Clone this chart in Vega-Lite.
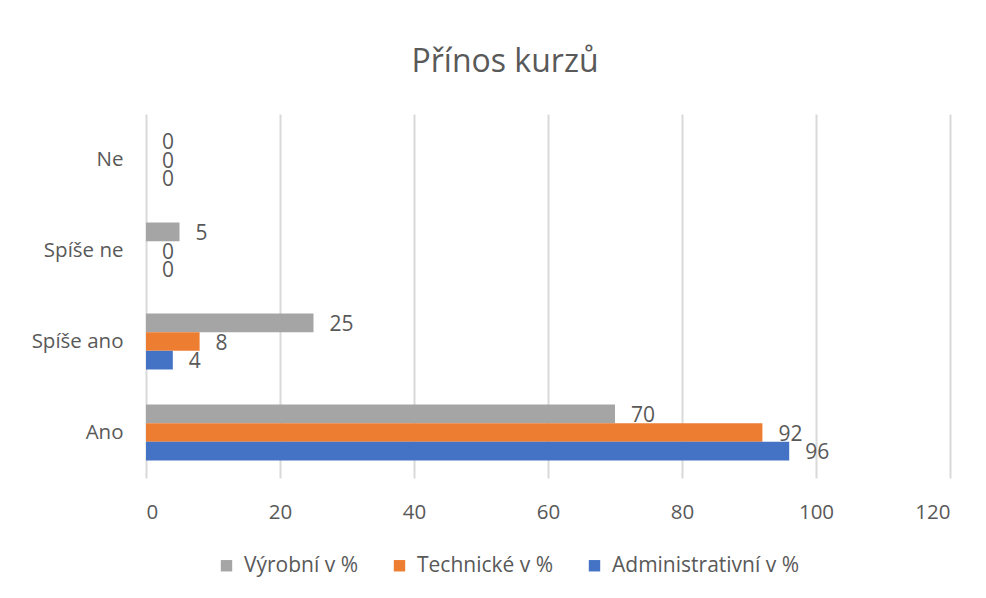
{
  "$schema": "https://vega.github.io/schema/vega-lite/v6.json",
  "width": 804,
  "height": 364,
  "autosize": {"type": "none"},
  "padding": {"left": 146, "top": 114, "right": 36, "bottom": 120},
  "background": "white",
  "config": {
    "font": "Open Sans",
    "view": {"stroke": null}
  },
  "title": {
    "text": "Přínos kurzů",
    "fontSize": 32,
    "fontWeight": "normal",
    "color": "#595959",
    "anchor": "middle",
    "frame": "group",
    "dx": -43,
    "offset": 35
  },
  "data": {
    "values": [
      {"kategorie": "Ne", "skupina": "Výrobní v %", "hodnota": 0},
      {"kategorie": "Ne", "skupina": "Technické v %", "hodnota": 0},
      {"kategorie": "Ne", "skupina": "Administrativní v %", "hodnota": 0},
      {"kategorie": "Spíše ne", "skupina": "Výrobní v %", "hodnota": 5},
      {"kategorie": "Spíše ne", "skupina": "Technické v %", "hodnota": 0},
      {"kategorie": "Spíše ne", "skupina": "Administrativní v %", "hodnota": 0},
      {"kategorie": "Spíše ano", "skupina": "Výrobní v %", "hodnota": 25},
      {"kategorie": "Spíše ano", "skupina": "Technické v %", "hodnota": 8},
      {"kategorie": "Spíše ano", "skupina": "Administrativní v %", "hodnota": 4},
      {"kategorie": "Ano", "skupina": "Výrobní v %", "hodnota": 70},
      {"kategorie": "Ano", "skupina": "Technické v %", "hodnota": 92},
      {"kategorie": "Ano", "skupina": "Administrativní v %", "hodnota": 96}
    ]
  },
  "encoding": {
    "y": {
      "field": "kategorie",
      "type": "nominal",
      "sort": ["Ne", "Spíše ne", "Spíše ano", "Ano"],
      "scale": {"paddingInner": 0.385, "paddingOuter": 0.1925},
      "axis": {
        "title": null,
        "domain": false,
        "ticks": false,
        "labelFontSize": 20.5,
        "labelColor": "#595959",
        "labelPadding": 23
      }
    },
    "yOffset": {
      "field": "skupina",
      "type": "nominal",
      "sort": ["Výrobní v %", "Technické v %", "Administrativní v %"],
      "scale": {"paddingInner": 0, "paddingOuter": 0}
    },
    "x": {
      "field": "hodnota",
      "type": "quantitative",
      "scale": {"domain": [0, 120], "nice": false},
      "axis": {
        "title": null,
        "values": [0, 20, 40, 60, 80, 100, 120],
        "domain": false,
        "ticks": false,
        "grid": true,
        "gridColor": "#d9d9d9",
        "gridWidth": 2,
        "labelFontSize": 20.5,
        "labelColor": "#595959",
        "labelPadding": 24
      }
    }
  },
  "layer": [
    {
      "mark": {"type": "bar"},
      "encoding": {
        "color": {
          "field": "skupina",
          "type": "nominal",
          "scale": {
            "domain": ["Výrobní v %", "Technické v %", "Administrativní v %"],
            "range": ["#A5A5A5", "#ED7D31", "#4472C4"]
          },
          "legend": {
            "title": null,
            "orient": "none",
            "direction": "horizontal",
            "legendX": 70,
            "legendY": 441,
            "symbolType": "square",
            "symbolSize": 130,
            "symbolStrokeWidth": 0,
            "labelFontSize": 21,
            "labelColor": "#595959",
            "labelLimit": 0,
            "columnPadding": 30,
            "labelOffset": 7
          }
        }
      }
    },
    {
      "mark": {
        "type": "text",
        "align": "left",
        "baseline": "middle",
        "dx": 16,
        "dy": 2,
        "fontSize": 21,
        "color": "#595959"
      },
      "encoding": {
        "text": {"field": "hodnota", "type": "quantitative"}
      }
    }
  ]
}
